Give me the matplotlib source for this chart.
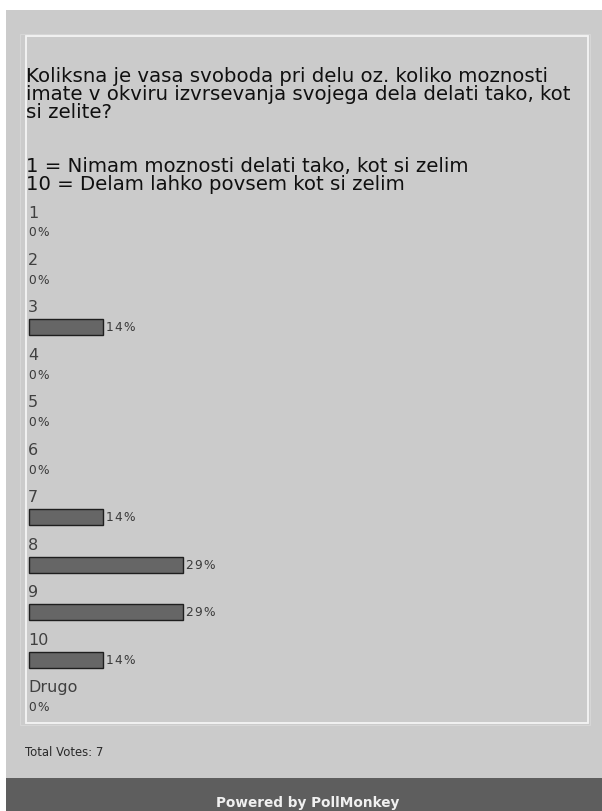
import matplotlib
matplotlib.use("Agg")
import matplotlib.pyplot as plt
from matplotlib.patches import Rectangle

# Poll results
options = ["1", "2", "3", "4", "5", "6", "7", "8", "9", "10", "Drugo"]
percents = [0, 0, 14, 0, 0, 0, 14, 29, 29, 14, 0]
total_votes = 7

question_lines = ["Koliksna je vasa svoboda pri delu oz. koliko moznosti",
                  "imate v okviru izvrsevanja svojega dela delati tako, kot",
                  "si zelite?"]
scale_lines = ["1 = Nimam moznosti delati tako, kot si zelim",
               "10 = Delam lahko povsem kot si zelim"]

W, H = 602, 812
fig = plt.figure(figsize=(W / 100, H / 100), dpi=100, facecolor="white")
ax = fig.add_axes([0, 0, 1, 1])
ax.set_xlim(0, W)
ax.set_ylim(H, 0)
ax.axis("off")

# panel, footer and the inner framed box
ax.add_patch(Rectangle((6, 11), W - 6, 768, facecolor="#cbcbcb", edgecolor="none"))
ax.add_patch(Rectangle((6, 779), W - 6, H - 779, facecolor="#5e5e5e", edgecolor="none"))
ax.add_patch(Rectangle((20, 35), 570, 691, facecolor="none", edgecolor="#d6d6d6", lw=0.8))
ax.add_patch(Rectangle((26, 37), 562, 687, facecolor="none", edgecolor="#f4f4f4", lw=1.3))

for k, line in enumerate(question_lines):
    ax.text(26, 76 + 18 * k, line, fontsize=14.2, color="#101010",
            va="center", ha="left")
for k, line in enumerate(scale_lines):
    ax.text(26, 166 + 18 * k, line, fontsize=14.2, color="#101010",
            va="center", ha="left")


def spaced(s):
    return "\u200a".join(s)


# one row per option: label, then bar or value
row0, step = 213, 47.5
px_per_pct = 5.3
bar_left = 29
bar_h = 16
for i, (name, pct) in enumerate(zip(options, percents)):
    y = row0 + i * step
    ax.text(28, y, name, fontsize=11.5, color="#404040", va="center", ha="left")
    vy = y + 20
    if pct > 0:
        ax.barh(vy, pct * px_per_pct, left=bar_left, height=bar_h,
                color="#666666", edgecolor="#1e1e1e", linewidth=1.0)
        ax.text(bar_left + pct * px_per_pct + 3, vy, spaced(f"{pct}%"),
                fontsize=8.8, color="#3a3a3a", va="center", ha="left")
    else:
        ax.text(29, vy, spaced(f"{pct}%"), fontsize=8.8, color="#3a3a3a",
                va="center", ha="left")

ax.text(25, 753, f"Total Votes: {total_votes}", fontsize=8.4, color="#2a2a2a",
        va="center", ha="left")
ax.text(308, 803, "Powered by PollMonkey", fontsize=9.8, fontweight="bold",
        color="#f0f0f0", va="center", ha="center")

fig.savefig("out.png", dpi=100, facecolor="white")
